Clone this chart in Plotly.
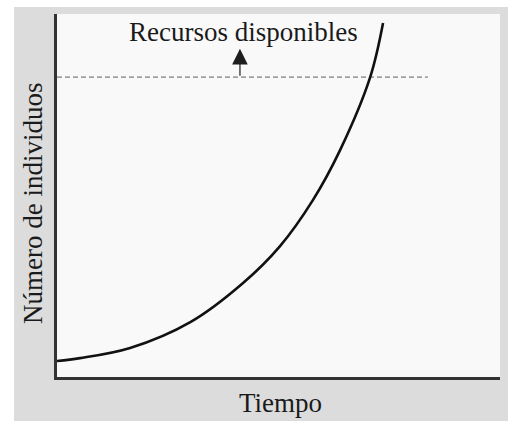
import plotly.graph_objects as go

# Data (arbitrary units)
tiempo = [0, 0.52, 1.65, 3.02, 4.20, 5.03, 5.78, 6.39, 7.07, 7.36]
individuos = [4.4, 5.2, 8.0, 15.2, 25.9, 36.0, 48.8, 62.5, 82.6, 97.5]
recursos_x = [0, 8.37]
recursos_y = [82.6, 82.6]
flecha_x = 4.13
flecha_desde = 82.6
flecha_hasta = 90.4
etiqueta_recursos = "Recursos disponibles"
titulo_x = "Tiempo"
titulo_y = "Número de individuos"

W, H = 510, 421
L, R, T, B = 57, 10, 14, 44
pw, ph = W - L - R, H - T - B

def px_x(p):
    return (p - L) / pw

def px_y(p):
    return (H - B - p) / ph

serif = "Liberation Serif"

fig = go.Figure()
fig.add_trace(go.Scatter(
    x=recursos_x, y=recursos_y, mode="lines",
    line=dict(color="#a0a0a0", width=1.6, dash="5px,3px"),
    hoverinfo="skip", showlegend=False))
fig.add_trace(go.Scatter(
    x=tiempo, y=individuos, mode="lines",
    line=dict(color="#111111", width=2.6, shape="spline", smoothing=1.0),
    showlegend=False))

fig.add_annotation(
    x=flecha_x, y=flecha_hasta, ax=flecha_x, ay=flecha_desde,
    xref="x", yref="y", axref="x", ayref="y",
    text="", showarrow=True, arrowhead=2, arrowsize=2.6, arrowwidth=1.2,
    arrowcolor="#1e1e1e")
fig.add_annotation(
    x=4.2, y=95, xref="x", yref="y", text=etiqueta_recursos,
    showarrow=False, font=dict(family=serif, size=27, color="#1a1a1a"),
    xanchor="center", yanchor="middle")
fig.add_annotation(
    x=px_x(280), y=px_y(403), xref="paper", yref="paper", text=titulo_x,
    showarrow=False, font=dict(family=serif, size=27, color="#1a1a1a"),
    xanchor="center", yanchor="middle")
fig.add_annotation(
    x=px_x(33), y=px_y(204), xref="paper", yref="paper", text=titulo_y,
    textangle=-90, showarrow=False,
    font=dict(family=serif, size=27, color="#1a1a1a"),
    xanchor="center", yanchor="middle")

# white outer strips (paper background is gray)
for (x0, y0, x1, y1) in [(0, 0, W, 7), (0, 0, 14, H), (508, 0, W, H)]:
    fig.add_shape(type="rect", xref="paper", yref="paper",
                  x0=px_x(x0), x1=px_x(x1), y0=px_y(y1), y1=px_y(y0),
                  fillcolor="white", line=dict(width=0), layer="below")

fig.update_xaxes(range=[0, 10], showgrid=False, zeroline=False,
                 showticklabels=False, ticks="", showline=True,
                 linecolor="#333333", linewidth=3, fixedrange=True)
fig.update_yaxes(range=[0, 100], showgrid=False, zeroline=False,
                 showticklabels=False, ticks="", showline=True,
                 linecolor="#333333", linewidth=3, fixedrange=True)

fig.update_layout(
    width=W, height=H,
    margin=dict(l=L, r=R, t=T, b=B, pad=0),
    paper_bgcolor="#dcdcdc", plot_bgcolor="#f9f9f9",
    font=dict(family=serif),
    showlegend=False)

fig.write_html(
    "out.html", config={"displayModeBar": False},
    post_script="document.body.style.margin='0';document.body.style.padding='0';document.body.style.overflow='hidden';")
